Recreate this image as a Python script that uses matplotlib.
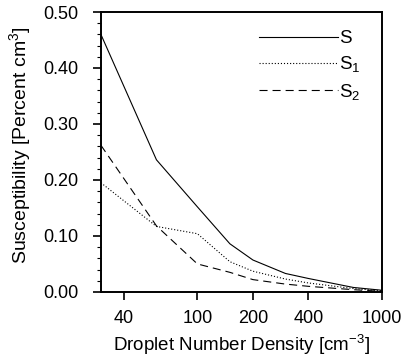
import matplotlib as mpl

mpl.use('Agg')
import matplotlib.pyplot as plt
import matplotlib.ticker as mticker

# droplet number density [cm^-3]
density = [30, 60, 100, 150, 200, 300, 400, 700, 1000]
# susceptibilities
s_total = [0.460, 0.236, 0.152, 0.086, 0.057, 0.033, 0.024, 0.008, 0.003]
s_one = [0.195, 0.117, 0.104, 0.054, 0.037, 0.023, 0.016, 0.006, 0.002]
s_two = [0.262, 0.118, 0.050, 0.035, 0.022, 0.014, 0.010, 0.004, 0.001]

xticks = [40, 100, 200, 400, 1000]
yticks = [0.0, 0.1, 0.2, 0.3, 0.4, 0.5]

plt.rcParams['font.family'] = ['Liberation Sans', 'DejaVu Sans']
plt.rcParams['font.size'] = 13
plt.rcParams['mathtext.fontset'] = 'custom'
plt.rcParams['mathtext.rm'] = 'Liberation Sans'
plt.rcParams['mathtext.it'] = 'Liberation Sans'
plt.rcParams['mathtext.default'] = 'regular'
plt.rcParams['lines.scale_dashes'] = False

fig = plt.figure(figsize=(4.02, 3.64), dpi=100)
ax = fig.add_axes([0.251, 0.198, 0.699, 0.769])

ax.plot(density, s_total, c="k", lw=0.8, label="S")
ax.plot(density, s_one, c="k", lw=0.8, ls=(0, (0.8, 1.4)), label="S$_1$")
ax.plot(density, s_two, c="k", lw=0.8, ls=(0, (5.8, 3.6)), label="S$_2$")

ax.set_xscale("log")
ax.set_xlim(30, 1000)
ax.set_ylim(0, 0.5)
ax.set_xticks(xticks)
ax.xaxis.set_major_formatter(mticker.FixedFormatter([str(t) for t in xticks]))
ax.xaxis.set_minor_locator(mticker.NullLocator())
ax.set_yticks(yticks)
ax.yaxis.set_major_formatter(mticker.FormatStrFormatter("%.2f"))
ax.yaxis.set_minor_locator(mticker.MultipleLocator(0.02))

for s in ax.spines.values():
    s.set_linewidth(1.4)
ax.tick_params(which="major", direction="out", length=6, width=1.2)
ax.tick_params(axis="y", which="major", pad=10)
ax.tick_params(axis="x", which="major", pad=7)
ax.tick_params(which="minor", direction="out", length=2.6, width=0.8)

ax.set_xlabel("Droplet Number Density [cm$^{-3}$]", fontsize=13.5, labelpad=4.5)
ax.set_ylabel("Susceptibility [Percent cm$^3$]", fontsize=14)
ax.yaxis.set_label_coords(-0.242, 0.525)

ax.legend(loc="upper right", bbox_to_anchor=(0.95, 0.962), frameon=False,
          handlelength=4.2, handletextpad=0.05, labelspacing=0.38,
          borderaxespad=0, fontsize=13.5)

plt.savefig("out.png", dpi=100)
plt.close()
